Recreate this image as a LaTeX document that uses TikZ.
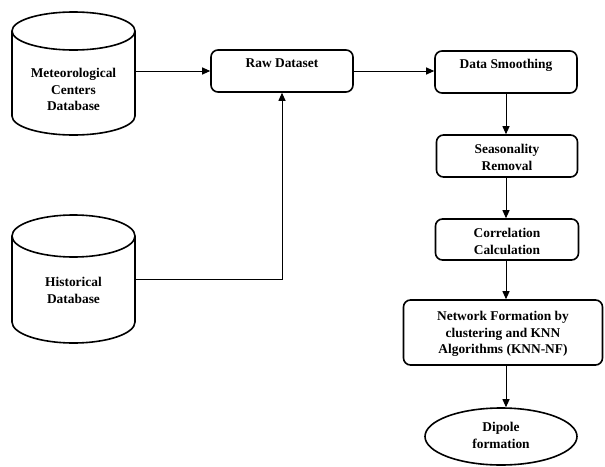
\documentclass[tikz,border=0pt]{standalone}
\usepackage{fontspec}
\setmainfont{Liberation Serif}
\usetikzlibrary{arrows.meta,shapes.geometric}
\begin{document}
\begin{tikzpicture}[x=1pt,y=-1pt,
  box/.style={draw,line width=1.6pt,rounded corners=7pt,inner sep=0pt},
  lbl/.style={anchor=north,inner sep=0pt,align=center,font=\fontsize{13.4}{16.5}\selectfont\bfseries},
  arr/.style={-{Triangle[length=8pt,width=7pt]},line width=1pt},
  cyl/.style={draw,line width=1.6pt},
  hold/.style={inner sep=0pt,outer sep=0pt}]
\useasboundingbox (0,0) rectangle (605,466);
% cylinders
\node[hold,minimum width=123pt,minimum height=123pt] (meteo) at (73.5,73.5) {};
\draw[cyl] (12,31) -- (12,116) arc[start angle=180,end angle=360,x radius=61.5pt,y radius=19pt] -- (135,31);
\draw[cyl] (73.5,31) ellipse [x radius=61.5pt,y radius=19pt];
\node[lbl] (tmeteo) at (73.5,68) {Meteorological\\Centers\\Database};
\node[hold,minimum width=123pt,minimum height=128pt] (hist) at (73.5,279) {};
\draw[cyl] (12,236) -- (12,322) arc[start angle=180,end angle=360,x radius=61.5pt,y radius=21pt] -- (135,236);
\draw[cyl] (73.5,236) ellipse [x radius=61.5pt,y radius=21pt];
\node[lbl] (thist) at (73.5,277) {Historical\\Database};
% boxes
\node[box,minimum width=142pt,minimum height=42pt] (raw) at (282,71) {};
\node[lbl] (traw) at (282,59) {Raw Dataset};
\node[box,minimum width=142pt,minimum height=42pt] (smooth) at (506,72) {};
\node[lbl] (tsmooth) at (506,59) {Data Smoothing};
\node[box,minimum width=141pt,minimum height=42pt] (season) at (507,156) {};
\node[lbl] (tseason) at (507,144) {Seasonality\\Removal};
\node[box,minimum width=143pt,minimum height=41pt] (corr) at (507,239.5) {};
\node[lbl] (tcorr) at (507,228) {Correlation\\Calculation};
\node[box,minimum width=199pt,minimum height=65pt] (net) at (503,332.5) {};
\node[lbl] (tnet) at (503,311) {Network Formation by\\clustering and KNN\\Algorithms (KNN-NF)};
\node[draw,ellipse,line width=1.6pt,inner sep=0pt,minimum width=152pt,minimum height=57pt] (dip) at (501,436.5) {};
\node[lbl] (tdip) at (501,422) {Dipole\\formation};
% connectors
\draw[arr] (meteo.east |- raw.west) -- (raw.west);
\draw[arr] (raw.east) -- (smooth.west |- raw.east);
\draw[arr] (hist.east) -| (raw.south);
\draw[arr] (smooth.south) -- (smooth.south |- season.north);
\draw[arr] (smooth.south |- season.south) -- (smooth.south |- corr.north);
\draw[arr] (smooth.south |- corr.south) -- (smooth.south |- net.north);
\draw[arr] (smooth.south |- net.south) -- (smooth.south |- dip.north);
\end{tikzpicture}
\end{document}
